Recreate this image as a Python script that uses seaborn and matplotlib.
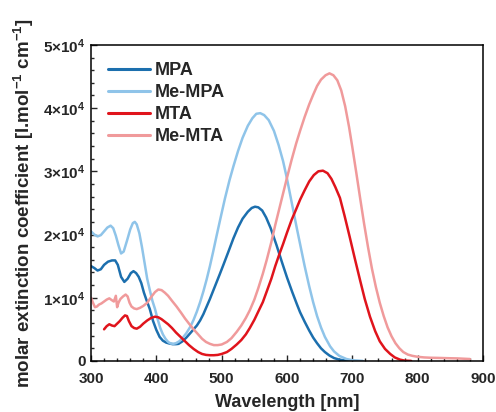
import numpy as np
import pandas as pd
import matplotlib
matplotlib.use('Agg')
import matplotlib.pyplot as plt
from matplotlib.ticker import AutoMinorLocator, FixedLocator, FuncFormatter
import seaborn as sns

# wavelengths [nm] and molar extinction coefficients
mpa_nm = [300, 305, 310, 315, 320, 326, 332, 337, 341, 346, 351, 356, 361, 365, 369, 373, 377, 381,
          385, 390, 395, 400, 405, 410, 415, 420, 425, 430, 434, 440, 446, 452, 457, 462, 467, 472,
          477, 482, 487, 492, 497, 503, 510, 518, 525, 532, 540, 546, 551, 556, 562, 568, 575, 584,
          592, 600, 608, 615, 620, 627, 634, 640, 646, 652, 658, 665, 672, 680, 690, 700]
mpa_eps = [15000, 14700, 14300, 14500, 15200, 15700, 15900, 15900, 15200, 13300, 12500, 13000, 13900,
           14200, 13900, 13300, 12300, 10800, 9600, 8200, 6300, 4900, 3800, 3200, 2900, 2750, 2650,
           2650, 2700, 3100, 3700, 4400, 5000, 5600, 6400, 7400, 8600, 9800, 11100, 12400, 13700,
           15300, 17200, 19400, 21100, 22500, 23600, 24200, 24400, 24300, 23800, 22700, 21000, 18300,
           15700, 13200, 10900, 9000, 7700, 6200, 4800, 3700, 2800, 2000, 1400, 850, 450, 200, 60, 0]

me_mpa_nm = [300, 305, 310, 315, 320, 325, 330, 334, 338, 342, 346, 350, 355, 360, 364, 367, 370, 374,
             378, 382, 386, 390, 394, 398, 402, 406, 410, 414, 418, 422, 426, 430, 435, 440, 446, 452,
             457, 462, 467, 472, 477, 482, 487, 492, 498, 505, 512, 518, 525, 532, 540, 547, 553, 559,
             565, 572, 580, 587, 594, 600, 605, 610, 615, 620, 627, 634, 640, 646, 652, 658, 666, 672,
             680, 691, 700, 716]
me_mpa_eps = [20500, 20000, 19700, 19900, 20500, 21100, 21400, 21000, 19800, 18300, 17000, 17300, 19000,
              20800, 21800, 22000, 21600, 20200, 18000, 15500, 13000, 11200, 9500, 8200, 6600, 5200,
              4200, 3500, 3000, 2750, 2700, 2800, 3100, 3600, 4400, 5400, 6500, 7800, 9300, 11000,
              12900, 15000, 17300, 19700, 22500, 25700, 28600, 30800, 33200, 35300, 37200, 38400, 39100,
              39200, 38900, 38100, 36400, 34200, 31600, 28800, 26200, 23600, 21000, 18500, 15000, 11800,
              9300, 7100, 5300, 3800, 2300, 1500, 800, 300, 120, 0]

mta_nm = [320, 324, 328, 332, 336, 340, 344, 348, 352, 355, 358, 362, 366, 370, 375, 380, 386, 392,
          398, 403, 408, 413, 418, 424, 430, 437, 444, 450, 457, 464, 470, 476, 482, 488, 494, 500,
          508, 515, 523, 530, 537, 543, 550, 556, 563, 569, 576, 582, 588, 594, 600, 607, 614, 620,
          627, 634, 641, 648, 655, 662, 668, 674, 681, 688, 696, 704, 712, 719, 727, 735, 742, 750,
          758, 765, 773, 780, 790]
mta_eps = [5000, 5500, 5800, 5600, 5500, 5900, 6300, 6800, 7200, 7100, 6300, 5500, 5200, 5100, 5400,
           5900, 6400, 6800, 7000, 6900, 6600, 6200, 5800, 5200, 4500, 3800, 3100, 2500, 1900, 1400,
           1100, 950, 900, 900, 950, 1100, 1400, 1900, 2600, 3300, 4200, 5200, 6500, 7800, 9300,
           11000, 13000, 15000, 16800, 18500, 20300, 22300, 24000, 25500, 27000, 28400, 29400, 30000,
           30100, 29700, 28800, 27500, 25800, 23000, 19600, 16100, 12700, 9800, 7000, 4700, 3100,
           1900, 1100, 550, 200, 50, 0]

me_mta_nm = [300, 303, 306, 309, 312, 316, 320, 324, 328, 332, 335, 338, 340, 342, 345, 349, 353, 356,
             359, 362, 366, 370, 375, 380, 386, 392, 398, 403, 408, 413, 418, 424, 431, 438, 444, 450,
             457, 464, 470, 476, 482, 488, 494, 500, 508, 515, 523, 530, 537, 543, 550, 556, 563, 569,
             576, 582, 588, 594, 600, 607, 614, 620, 627, 634, 640, 646, 652, 659, 665, 671, 677, 683,
             689, 695, 700, 706, 712, 718, 724, 730, 736, 742, 748, 754, 760, 766, 772, 778, 785, 792,
             800, 810, 820, 830, 840, 850, 860, 870, 880]
me_mta_eps = [10000, 9200, 8500, 8600, 8900, 9100, 9400, 9700, 9900, 9600, 9400, 10300, 8500, 9200,
              9800, 10200, 10500, 10200, 9200, 8600, 8300, 8200, 8400, 8700, 9200, 10100, 10900, 11300,
              11200, 10800, 10300, 9500, 8600, 7600, 6700, 5900, 5000, 4200, 3500, 3000, 2700, 2500,
              2500, 2600, 3000, 3600, 4600, 5600, 6800, 8000, 9700, 11500, 13800, 16000, 18800, 21500,
              24000, 26500, 29000, 31800, 34400, 36400, 38600, 40600, 42100, 43500, 44500, 45200, 45500,
              45200, 44400, 42800, 40300, 37000, 33800, 29800, 25700, 21700, 18000, 14600, 11700, 9200,
              7100, 5300, 3900, 2800, 2000, 1400, 1000, 800, 650, 550, 500, 480, 450, 420, 400, 350, 300]

names = ['MPA', 'Me-MPA', 'MTA', 'Me-MTA']
colores = ['#1c6fae', '#8fc4e9', '#e0141c', '#f09a9b']

# tabla larga para seaborn
df = pd.concat([
    pd.DataFrame({'nm': x, 'eps': y, 'compound': n})
    for x, y, n in zip([mpa_nm, me_mpa_nm, mta_nm, me_mta_nm],
                       [mpa_eps, me_mpa_eps, mta_eps, me_mta_eps], names)
], ignore_index=True)

sns.set_style('ticks')
plt.rcParams['font.family'] = ['Liberation Sans', 'DejaVu Sans']
plt.rcParams['font.weight'] = 'bold'
plt.rcParams['mathtext.fontset'] = 'custom'
plt.rcParams['mathtext.rm'] = 'Liberation Sans:bold'
plt.rcParams['mathtext.bf'] = 'Liberation Sans:bold'
plt.rcParams['mathtext.it'] = 'Liberation Sans:bold'

fig = plt.figure(figsize=(4.96, 4.12), dpi=100)
ax = fig.add_axes([0.1835, 0.124, 0.7903, 0.767])

sns.lineplot(data=df, x='nm', y='eps', hue='compound', hue_order=names,
             palette=colores, estimator=None, sort=False, linewidth=1.8, ax=ax)
for l in ax.get_lines():
    l.set_solid_joinstyle('round')

ax.set_xlim(300, 900)
ax.set_ylim(0, 50000)
ax.xaxis.set_major_locator(FixedLocator([300, 400, 500, 600, 700, 800, 900]))
ax.yaxis.set_major_locator(FixedLocator([0, 10000, 20000, 30000, 40000, 50000]))
ax.xaxis.set_minor_locator(AutoMinorLocator(5))
ax.yaxis.set_minor_locator(AutoMinorLocator(5))
ax.yaxis.set_major_formatter(FuncFormatter(
    lambda v, p: '0' if v == 0 else r'%d$\times$10$^{4}$' % round(v / 10000)))

ax.tick_params(which='both', direction='in', top=False, right=False, labelsize=11, width=1)
ax.tick_params(which='major', length=4.5)
ax.tick_params(which='minor', length=2.5)
ax.tick_params(axis='x', pad=8)
ax.tick_params(axis='y', pad=4)
for s in ax.spines.values():
    s.set_linewidth(1.1)
    s.set_color('black')

ax.set_xlabel('Wavelength [nm]', fontsize=13, fontweight='bold', labelpad=6)
ax.set_ylabel(r'molar extinction coefficient [l.mol$^{-1}$ cm$^{-1}$]', fontsize=13.5,
              fontweight='bold', labelpad=5)

leg = ax.legend(loc='upper left', frameon=False, fontsize=13, handlelength=2.3,
                handletextpad=0.3, labelspacing=0.28, borderaxespad=0.55)
for t in leg.get_texts():
    t.set_fontweight('bold')
for l in leg.get_lines():
    l.set_linewidth(2.2)

fig.savefig('out.png', dpi=100)
